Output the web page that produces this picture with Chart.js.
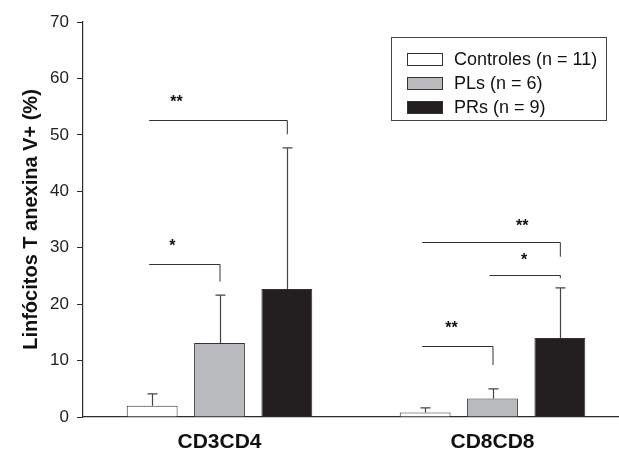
<!DOCTYPE html>
<html>
<head>
<meta charset="utf-8">
<script src="https://cdn.jsdelivr.net/npm/chart.js@4"></script>
<style>
  html, body { margin: 0; padding: 0; background: #fff; overflow: hidden; }
  #wrap { width: 640px; height: 449px; }
</style>
</head>
<body>
<div id="wrap"><canvas id="myBarChart" width="640" height="449"></canvas></div>
<script>
// 데이터 값
const categories = ['CD3CD4', 'CD8CD8'];
const seriesNames = ['Controles (n = 11)', 'PLs (n = 6)', 'PRs (n = 9)'];
const controles = [2.0, 0.8];
const pls = [13.1, 3.3];
const prs = [22.7, 14.0];
const controlesErr = [4.1, 1.6];
const plsErr = [21.6, 5.0];
const prsErr = [47.7, 22.9];
const yTicks = [0, 10, 20, 30, 40, 50, 60, 70];

// 유의성 표시 (카테고리, 시작 막대, 끝 막대, 가로선 높이, 세로선 끝, 라벨, 라벨 위치)
const brackets = [
  { cat: 0, from: 0, to: 2, y: 52.7, drop: 50.1, label: '**', labelAt: 0.18, labelY: 56.8 },
  { cat: 0, from: 0, to: 1, y: 27.1, drop: 24.0, label: '*', labelAt: 0.30, labelY: 31.3 },
  { cat: 1, from: 0, to: 2, y: 31.0, drop: 28.4, label: '**', labelAt: 0.72, labelY: 34.8 },
  { cat: 1, from: 1, to: 2, y: 25.2, drop: 24.6, label: '*', labelAt: 0.47, labelY: 28.8 },
  { cat: 1, from: 0, to: 1, y: 12.5, drop: 9.2, label: '**', labelAt: 0.39, labelY: 16.8 }
];

const axisColor = '#2b2b2b';
const fontFamily = '"Liberation Sans", Arial, sans-serif';

const errorBars = {
  id: 'errorBars',
  afterDatasetsDraw(chart) {
    const ctx = chart.ctx;
    const yScale = chart.scales.y;
    const errs = [controlesErr, plsErr, prsErr];
    ctx.save();
    ctx.strokeStyle = '#444';
    ctx.lineWidth = 1.2;
    errs.forEach((arr, di) => {
      const meta = chart.getDatasetMeta(di);
      meta.data.forEach((bar, i) => {
        const x = Math.round(bar.x) + 0.5;
        const yTop = yScale.getPixelForValue(arr[i]);
        ctx.beginPath();
        ctx.moveTo(x, bar.y);
        ctx.lineTo(x, yTop);
        ctx.moveTo(x - 5, yTop);
        ctx.lineTo(x + 5, yTop);
        ctx.stroke();
      });
    });
    // 유의성 괄호
    ctx.strokeStyle = '#333';
    ctx.lineWidth = 1;
    ctx.fillStyle = '#111';
    ctx.font = 'bold 16px ' + fontFamily;
    ctx.textAlign = 'center';
    ctx.textBaseline = 'middle';
    brackets.forEach(b => {
      const x1 = chart.getDatasetMeta(b.from).data[b.cat].x;
      const x2 = chart.getDatasetMeta(b.to).data[b.cat].x;
      const y = Math.round(yScale.getPixelForValue(b.y)) + 0.5;
      const yd = yScale.getPixelForValue(b.drop);
      ctx.beginPath();
      ctx.moveTo(x1 - 3, y);
      ctx.lineTo(x2 + 0.5, y);
      ctx.lineTo(x2 + 0.5, yd);
      ctx.stroke();
      ctx.fillText(b.label, x1 + (x2 - x1) * b.labelAt, yScale.getPixelForValue(b.labelY) + 6);
    });
    ctx.restore();
  }
};

const boxLegend = {
  id: 'boxLegend',
  afterDraw(chart) {
    const ctx = chart.ctx;
    ctx.save();
    ctx.strokeStyle = '#444';
    ctx.lineWidth = 1;
    ctx.strokeRect(391.5, 37.5, 215, 83);
    ctx.font = '18px ' + fontFamily;
    ctx.textAlign = 'left';
    ctx.textBaseline = 'middle';
    const rows = [59, 83, 107];
    chart.data.datasets.forEach((ds, i) => {
      ctx.fillStyle = ds.backgroundColor;
      ctx.fillRect(407, rows[i] - 6, 35, 12);
      ctx.strokeStyle = '#333';
      ctx.strokeRect(407.5, rows[i] - 5.5, 35, 12);
      ctx.fillStyle = '#111';
      ctx.fillText(ds.label, 454, rows[i] + 1);
    });
    ctx.restore();
  }
};

const ctx = document.getElementById('myBarChart').getContext('2d');
const common = { categoryPercentage: 0.74, barPercentage: 0.755, borderWidth: 1, borderColor: '#333' };

new Chart(ctx, {
  type: 'bar',
  data: {
    labels: categories,
    datasets: [
      Object.assign({ label: seriesNames[0], data: controles, backgroundColor: '#ffffff' }, common),
      Object.assign({ label: seriesNames[1], data: pls, backgroundColor: '#b9babd' }, common),
      Object.assign({ label: seriesNames[2], data: prs, backgroundColor: '#231f20', borderColor: '#231f20' }, common)
    ]
  },
  options: {
    responsive: false,
    animation: false,
    layout: { padding: { left: 0, right: 11, top: 22, bottom: 0 } },
    plugins: { legend: { display: false }, tooltip: { enabled: false } },
    scales: {
      x: {
        grid: { display: false, drawTicks: false },
        border: { color: axisColor, width: 1.2 },
        ticks: {
          color: '#111',
          padding: 13,
          font: { family: fontFamily, size: 21, weight: 'bold' }
        },
        afterFit(scale) { scale.height = 32; }
      },
      y: {
        min: 0,
        max: 70,
        afterBuildTicks(scale) { scale.ticks = yTicks.map(v => ({ value: v })); },
        grid: { drawOnChartArea: false, tickLength: 6, color: axisColor },
        border: { color: axisColor, width: 1.2 },
        ticks: {
          color: '#222',
          padding: 8,
          font: { family: fontFamily, size: 17 }
        },
        title: {
          display: true,
          text: 'Linfócitos T anexina V+ (%)',
          color: '#111',
          padding: { top: 19, bottom: 0 },
          font: { family: fontFamily, size: 20, weight: 'bold' }
        },
        afterFit(scale) { scale.width = 83; }
      }
    }
  },
  plugins: [errorBars, boxLegend]
});
</script>
</body>
</html>
